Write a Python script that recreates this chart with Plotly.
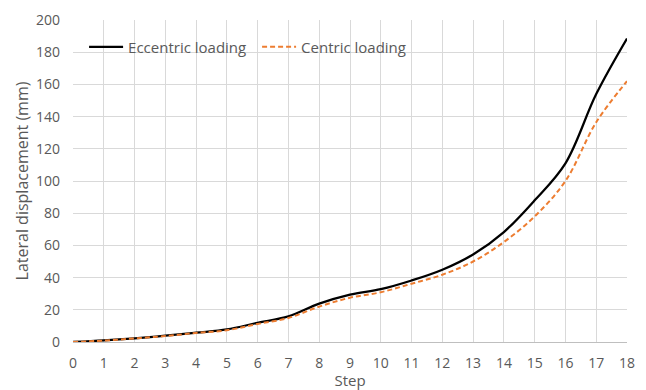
import plotly.graph_objects as go

# Load steps and measured lateral displacement (mm)
steps = list(range(0, 19))
eccentric = [0, 1.0, 2.3, 3.9, 5.8, 7.8, 11.9, 15.9, 23.8, 29.4, 32.8,
             38.2, 44.9, 54.4, 68.3, 88.0, 111.0, 154.0, 188.5]
centric = [0, 0.9, 2.2, 3.7, 5.6, 7.3, 11.2, 14.9, 22.0, 27.5, 30.9,
           36.2, 41.8, 50.0, 62.1, 78.0, 100.0, 136.5, 162.0]

x_ticks = list(range(0, 19))
y_ticks = list(range(0, 201, 20))

font_family = "Open Sans, Liberation Sans, sans-serif"
tick_color = "#595959"
grid_color = "#d9d9d9"

fig = go.Figure()
fig.add_trace(go.Scatter(
    x=steps, y=eccentric, mode="lines", name="Eccentric loading",
    line=dict(color="#000000", width=2.25, shape="spline", smoothing=1.0),
))
fig.add_trace(go.Scatter(
    x=steps, y=centric, mode="lines", name="Centric loading",
    line=dict(color="#ED7D31", width=2, dash="5px,3px", shape="spline", smoothing=1.0),
))

fig.update_layout(
    width=646, height=390,
    margin=dict(l=73, r=19, t=20, b=48, autoexpand=False),
    paper_bgcolor="white", plot_bgcolor="white",
    font=dict(family=font_family, size=14, color=tick_color),
    showlegend=True,
    legend=dict(
        orientation="h", x=0.02, y=0.916, xanchor="left", yanchor="middle",
        bgcolor="rgba(0,0,0,0)", font=dict(size=15, color=tick_color),
        itemwidth=34, entrywidth=124, entrywidthmode="pixels",
    ),
    xaxis=dict(
        range=[0, 18], tickvals=x_ticks, ticktext=[str(v) for v in x_ticks],
        showgrid=True, gridcolor=grid_color, gridwidth=1,
        showline=True, linecolor="#bfbfbf", linewidth=1, automargin=False,
        zeroline=False, ticks="", ticklen=0, ticklabelstandoff=8,
        tickfont=dict(size=14, color=tick_color),
        title=dict(text="Step", font=dict(size=15, color=tick_color), standoff=4),
    ),
    yaxis=dict(
        range=[0, 200], tickvals=y_ticks, automargin=False,
        showgrid=True, gridcolor=grid_color, gridwidth=1,
        showline=False, zeroline=False, ticks="", ticklen=0, ticklabelstandoff=12,
        tickfont=dict(size=14, color=tick_color),
        title=dict(text="Lateral displacement (mm)", font=dict(size=16, color=tick_color), standoff=3),
    ),
)

fig.write_html("out.html")
